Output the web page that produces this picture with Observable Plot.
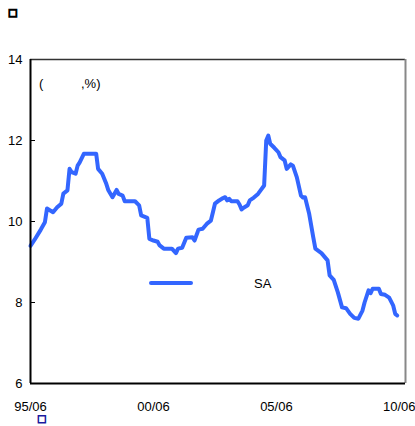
<!DOCTYPE html>
<html>
<head>
<meta charset="utf-8">
<script src="https://cdn.jsdelivr.net/npm/d3@7"></script>
<script src="https://cdn.jsdelivr.net/npm/@observablehq/plot@0.6"></script>
<style>
  html, body { margin: 0; padding: 0; background: #fff; overflow: hidden; }
  #wrap { position: relative; width: 415px; height: 426px; font-family: "Liberation Sans", Arial, sans-serif; }
  .ov { position: absolute; font-size: 13px; color: #000; white-space: pre; line-height: 1; }
</style>
</head>
<body>
<div id="wrap"></div>
<script>
// Monthly series
const dates = ["1995-06","1995-08","1995-11","1996-01","1996-02","1996-05","1996-07","1996-09","1996-10","1996-12",
"1997-01","1997-02","1997-04","1997-05","1997-06","1997-08","1998-02","1998-03","1998-05","1998-07",
"1998-08","1998-10","1998-12","1999-01","1999-03","1999-04","1999-09","1999-11","1999-12","2000-03",
"2000-04","2000-06","2000-08","2000-09","2000-11","2001-03","2001-05","2001-06","2001-08","2001-10",
"2002-01","2002-02","2002-04","2002-06","2002-08","2002-10","2002-11","2002-12","2003-02","2003-04",
"2003-05","2003-06","2003-07","2003-08","2003-11","2003-12","2004-01","2004-02","2004-04","2004-05",
"2004-07","2004-09","2004-10","2004-12","2005-01","2005-02","2005-03","2005-05","2005-07","2005-08",
"2005-10","2005-11","2006-01","2006-02","2006-04","2006-06","2006-07","2006-08","2006-10","2006-12",
"2007-01","2007-04","2007-07","2007-08","2007-10","2007-12","2008-02","2008-04","2008-06","2008-08",
"2008-10","2008-12","2009-01","2009-03","2009-04","2009-05","2009-08","2009-09","2009-11","2010-01",
"2010-03","2010-04","2010-05"];
const saValues = [9.4,9.55,9.8,9.98,10.32,10.23,10.35,10.44,10.69,10.77,
11.3,11.22,11.18,11.38,11.46,11.67,11.67,11.3,11.18,10.93,
10.77,10.6,10.78,10.68,10.64,10.5,10.5,10.4,10.15,10.09,
9.57,9.53,9.5,9.41,9.33,9.33,9.22,9.33,9.35,9.6,
9.61,9.53,9.8,9.82,9.94,10.02,10.23,10.44,10.52,10.58,
10.6,10.52,10.56,10.5,10.5,10.42,10.3,10.34,10.4,10.52,
10.59,10.68,10.75,10.89,12.0,12.12,11.92,11.82,11.71,11.59,
11.51,11.3,11.41,11.38,11.09,10.64,10.59,10.6,10.19,9.61,
9.33,9.22,9.04,8.67,8.56,8.25,7.88,7.86,7.72,7.62,
7.6,7.8,8.0,8.3,8.23,8.34,8.34,8.21,8.19,8.12,
7.93,7.72,7.68];
const xTickDates = ["1995-06","2000-06","2005-06","2010-06"];
const xTickLabels = ["95/06","00/06","05/06","10/06"];
const yTicks = [6, 8, 10, 12, 14];
const xDomainDates = ["1995-06","2010-09"];
const yDomain = [6, 14];
const seriesName = "SA";
const unitLabelOpen = "(";
const unitLabelClose = ",%)";

const parse = d3.utcParse("%Y-%m");
const data = dates.map((d, i) => ({date: parse(d), value: saValues[i]}));
const xTicks = xTickDates.map(parse);
const xDomain = xDomainDates.map(parse);
const labelOf = new Map(xTicks.map((t, i) => [+t, xTickLabels[i]]));
const blue = "#3366ff";

const chart = Plot.plot({
  width: 415,
  height: 426,
  marginLeft: 30,
  marginRight: 10,
  marginTop: 59,
  marginBottom: 43,
  style: {fontFamily: "Liberation Sans, Arial, sans-serif", fontSize: "13px", color: "#000", background: "#fff"},
  x: {type: "utc", domain: xDomain},
  y: {domain: yDomain},
  marks: [
    Plot.axisY({ticks: yTicks, tickSize: -5, tickPadding: 13, label: null, stroke: "#000", fill: "#000", fontSize: 13}),
    Plot.axisX({ticks: xTicks, tickSize: 0, tickPadding: 18, label: null, tickFormat: d => labelOf.get(+d), fill: "#000", fontSize: 13}),
    Plot.ruleY([yDomain[1]], {stroke: "#333", strokeWidth: 1.5}),
    Plot.ruleX([xDomain[1]], {stroke: "#888", strokeWidth: 2}),
    Plot.line(data, {x: "date", y: "value", stroke: blue, strokeWidth: 4, strokeLinejoin: "round", strokeLinecap: "round"}),
    Plot.ruleY([yDomain[0]], {stroke: "#000", strokeWidth: 2}),
    Plot.ruleX([xDomain[0]], {stroke: "#000", strokeWidth: 2})
  ]
});
const wrap = document.getElementById("wrap");
wrap.appendChild(chart);

function addText(txt, left, top, extra = {}) {
  const d = document.createElement("div");
  d.className = "ov";
  d.textContent = txt;
  d.style.left = left + "px";
  d.style.top = top + "px";
  Object.assign(d.style, extra);
  wrap.appendChild(d);
  return d;
}
addText(unitLabelOpen, 39, 77);
addText(unitLabelClose, 81, 77);
addText(seriesName, 254, 277);
addText("\u25A1", 8, 8, {fontFamily: "DejaVu Sans", fontSize: "10px", fontWeight: "bold", webkitTextStroke: "1.3px #000"});
addText("\u25A1", 37, 414, {fontFamily: "DejaVu Sans", fontSize: "10px", fontWeight: "bold", color: "#1a1aa0", webkitTextStroke: "0.8px #1a1aa0"});

// legend swatch
const sw = document.createElementNS("http://www.w3.org/2000/svg", "svg");
sw.setAttribute("width", 60); sw.setAttribute("height", 12);
sw.style.position = "absolute"; sw.style.left = "140px"; sw.style.top = "277px";
const ln = document.createElementNS("http://www.w3.org/2000/svg", "line");
ln.setAttribute("x1", 11); ln.setAttribute("x2", 51); ln.setAttribute("y1", 6); ln.setAttribute("y2", 6);
ln.setAttribute("stroke", blue); ln.setAttribute("stroke-width", 4); ln.setAttribute("stroke-linecap", "round");
sw.appendChild(ln);
wrap.appendChild(sw);
</script>
</body>
</html>
